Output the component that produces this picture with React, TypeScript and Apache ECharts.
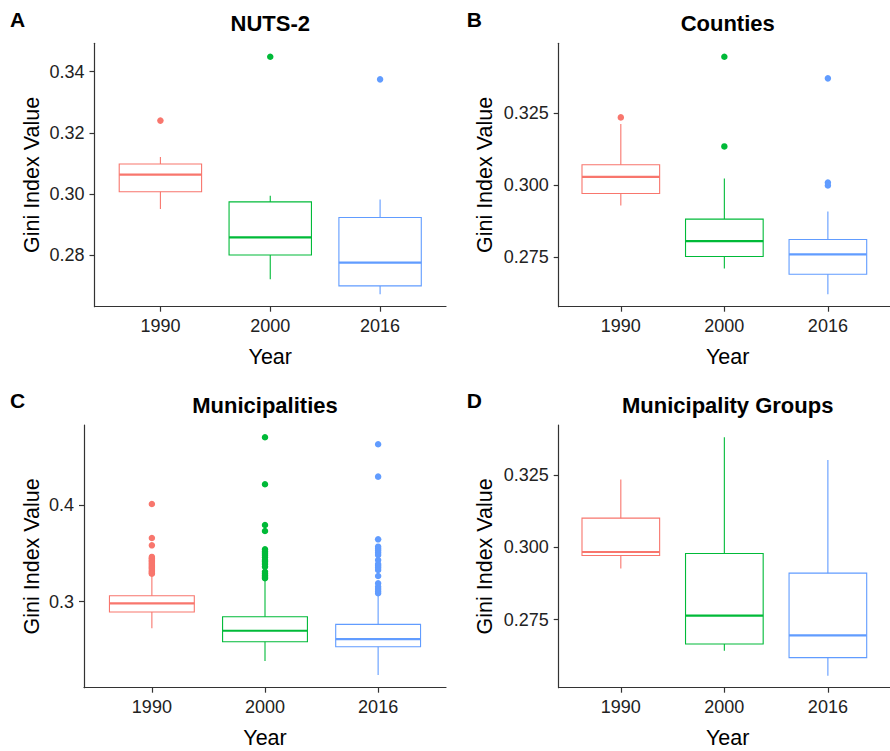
import React, { useEffect, useRef } from "react";
import * as echarts from "echarts";

const COLORS = ["#F8766D", "#00BA38", "#619CFF"];
const years = ["1990", "2000", "2016"];

// Box stats per year: [lower whisker, Q1, median, Q3, upper whisker]
const nutsBoxes = [
  [0.2951, 0.3007, 0.3063, 0.3098, 0.3121],
  [0.2721, 0.28, 0.2858, 0.2974, 0.2994],
  [0.2672, 0.2699, 0.2775, 0.2923, 0.2982],
];
const nutsOutliers = [[0.324], [0.3449], [0.3375]];
const nutsTicks = [0.28, 0.3, 0.32, 0.34];

const countyBoxes = [
  [0.2929, 0.2971, 0.3029, 0.3071, 0.3213],
  [0.271, 0.2752, 0.2805, 0.2882, 0.3023],
  [0.262, 0.269, 0.2759, 0.2811, 0.2908],
];
const countyOutliers = [[0.3236], [0.3447, 0.3135], [0.3372, 0.3009, 0.2999]];
const countyTicks = [0.275, 0.3, 0.325];

const muniBoxes = [
  [0.2725, 0.2893, 0.2983, 0.3062, 0.3276],
  [0.2387, 0.2586, 0.27, 0.2845, 0.3232],
  [0.2242, 0.2535, 0.2614, 0.2766, 0.3069],
];
const muniOutliers = [
  [0.401, 0.3659, 0.3583, 0.3463, 0.3449, 0.3441, 0.3425, 0.3418, 0.3402, 0.3391, 0.3377, 0.3364, 0.3352, 0.3339, 0.3321, 0.3309, 0.3297, 0.3289],
  [0.47, 0.4214, 0.3793, 0.3731, 0.3542, 0.3521, 0.3503, 0.3482, 0.3459, 0.3431, 0.3412, 0.3389, 0.3362, 0.331, 0.3288, 0.3271, 0.3255, 0.3242],
  [0.4628, 0.4293, 0.3645, 0.3569, 0.3548, 0.3529, 0.3507, 0.3483, 0.3431, 0.339, 0.3371, 0.3352, 0.3328, 0.3266, 0.319, 0.3155, 0.3131, 0.3108, 0.3087],
];
const muniTicks = [0.3, 0.4];

const groupBoxes = [
  [0.2927, 0.2972, 0.2984, 0.3101, 0.3235],
  [0.2643, 0.2666, 0.2764, 0.2979, 0.3381],
  [0.2556, 0.2619, 0.2696, 0.2911, 0.3302],
];
const groupOutliers = [[], [], []];
const groupTicks = [0.275, 0.3, 0.325];

const titles = ["NUTS-2", "Counties", "Municipalities", "Municipality Groups"];
const letters = ["A", "B", "C", "D"];

// layout (pixels) and axis ranges
const layout = [
  { left: 94.5, top: 43.3, width: 351.5, height: 263.4, ymin: 0.2631, ymax: 0.3493, dec: 2 },
  { left: 558.7, top: 43.3, width: 340.8, height: 263.4, ymin: 0.2577, ymax: 0.3494, dec: 3 },
  { left: 84, top: 425, width: 362, height: 262.7, ymin: 0.2111, ymax: 0.4827, dec: 1 },
  { left: 558.7, top: 425, width: 340.8, height: 262.7, ymin: 0.2515, ymax: 0.3423, dec: 3 },
];

const panels = [
  { boxes: nutsBoxes, outliers: nutsOutliers, ticks: nutsTicks },
  { boxes: countyBoxes, outliers: countyOutliers, ticks: countyTicks },
  { boxes: muniBoxes, outliers: muniOutliers, ticks: muniTicks },
  { boxes: groupBoxes, outliers: groupOutliers, ticks: groupTicks },
];

const FONT = "'Liberation Sans', Arial, sans-serif";
const AXIS_COLOR = "#333";

function renderBox(params: any, api: any) {
  const xi = api.value(0);
  const lo = api.coord([xi, api.value(1)]);
  const q1 = api.coord([xi, api.value(2)]);
  const md = api.coord([xi, api.value(3)]);
  const q3 = api.coord([xi, api.value(4)]);
  const hi = api.coord([xi, api.value(5)]);
  const half = api.size([0.75, 0])[0] / 2;
  const c = COLORS[xi - 1];
  const cx = lo[0];
  return {
    type: "group",
    children: [
      { type: "line", shape: { x1: cx, y1: hi[1], x2: cx, y2: q3[1] }, style: { stroke: c, lineWidth: 1.1 } },
      { type: "line", shape: { x1: cx, y1: q1[1], x2: cx, y2: lo[1] }, style: { stroke: c, lineWidth: 1.1 } },
      {
        type: "rect",
        shape: { x: cx - half, y: q3[1], width: 2 * half, height: q1[1] - q3[1] },
        style: { fill: "none", stroke: c, lineWidth: 1.1 },
      },
      { type: "line", shape: { x1: cx - half, y1: md[1], x2: cx + half, y2: md[1] }, style: { stroke: c, lineWidth: 2.2 } },
    ],
  };
}

export default function App() {
  const ref = useRef<HTMLDivElement>(null);
  useEffect(() => {
    document.body.style.margin = "0";
    if (!ref.current) return;
    const chart = echarts.init(ref.current, null, { renderer: "svg" });

    const grids: any[] = [];
    const xAxes: any[] = [];
    const yAxes: any[] = [];
    const series: any[] = [];
    const graphics: any[] = [];

    panels.forEach((p, i) => {
      const L = layout[i];
      grids.push({ left: L.left, top: L.top, width: L.width, height: L.height, containLabel: false });
      xAxes.push({
        type: "value",
        gridIndex: i,
        min: 0.4,
        max: 3.6,
        axisLine: { show: true, onZero: false, lineStyle: { color: AXIS_COLOR, width: 1.2 } },
        axisTick: { show: true, customValues: [1, 2, 3], length: 5, lineStyle: { color: AXIS_COLOR, width: 1.2 } },
        axisLabel: {
          show: true,
          customValues: [1, 2, 3],
          formatter: (v: number) => years[Math.round(v) - 1],
          color: "#222",
          fontSize: 18,
          fontFamily: FONT,
          margin: 10,
        },
        splitLine: { show: false },
      });
      yAxes.push({
        type: "value",
        gridIndex: i,
        min: L.ymin,
        max: L.ymax,
        axisLine: { show: true, onZero: false, lineStyle: { color: AXIS_COLOR, width: 1.2 } },
        axisTick: { show: true, customValues: p.ticks, length: 5, lineStyle: { color: AXIS_COLOR, width: 1.2 } },
        axisLabel: {
          show: true,
          customValues: p.ticks,
          formatter: (v: number) => v.toFixed(L.dec),
          color: "#222",
          fontSize: 18,
          fontFamily: FONT,
          margin: 10,
        },
        splitLine: { show: false },
      });
      series.push({
        type: "custom",
        xAxisIndex: i,
        yAxisIndex: i,
        renderItem: renderBox,
        encode: { x: 0, y: [1, 2, 3, 4, 5] },
        data: p.boxes.map((b, k) => [k + 1, ...b]),
        clip: false,
      });
      const pts: any[] = [];
      p.outliers.forEach((arr, k) => {
        arr.forEach((v) => pts.push({ value: [k + 1, v], itemStyle: { color: COLORS[k] } }));
      });
      series.push({
        type: "scatter",
        xAxisIndex: i,
        yAxisIndex: i,
        symbolSize: 6.5,
        data: pts,
        itemStyle: { opacity: 1 },
      });

      const cx = L.left + L.width / 2;
      const titleX = i % 2 === 1 ? 727.7 : cx;
      const letterX = i % 2 === 0 ? 10 : 466.7;
      graphics.push({
        type: "text",
        x: letterX,
        y: L.top - 24.3,
        style: { text: letters[i], font: `bold 21px ${FONT}`, fill: "#000", textAlign: "left", textVerticalAlign: "middle" },
      });
      graphics.push({
        type: "text",
        x: titleX,
        y: L.top - 19.5,
        style: { text: titles[i], font: `bold 22px ${FONT}`, fill: "#000", textAlign: "center", textVerticalAlign: "middle" },
      });
      graphics.push({
        type: "text",
        x: i % 2 === 0 ? 31.5 : 485,
        y: L.top + L.height / 2,
        rotation: Math.PI / 2,
        style: { text: "Gini Index Value", font: `21.5px ${FONT}`, fill: "#000", textAlign: "center", textVerticalAlign: "middle" },
      });
      graphics.push({
        type: "text",
        x: titleX,
        y: L.top + L.height + 50.5,
        style: { text: "Year", font: `21.5px ${FONT}`, fill: "#000", textAlign: "center", textVerticalAlign: "middle" },
      });
    });

    chart.setOption({
      animation: false,
      backgroundColor: "#fff",
      grid: grids,
      xAxis: xAxes,
      yAxis: yAxes,
      series,
      graphic: graphics,
    });
    return () => chart.dispose();
  }, []);
  return <div ref={ref} style={{ width: 890, height: 751 }} />;
}
